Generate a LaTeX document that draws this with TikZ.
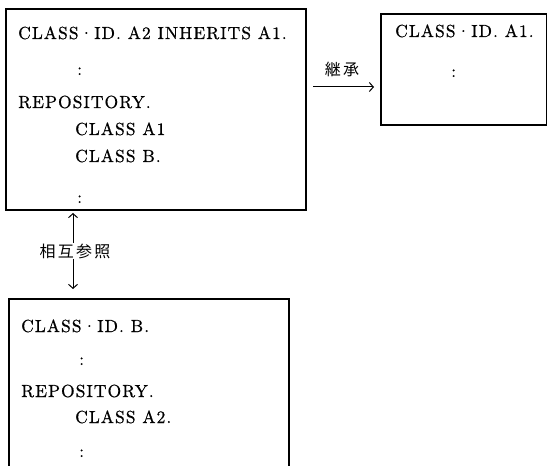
\documentclass[tikz,border=0pt]{standalone}
\usepackage{fontspec}
\usetikzlibrary{arrows.meta}
\newfontfamily\codefont[LetterSpace=6,FakeBold=0.6]{lmroman10-regular.otf}
\newfontfamily\cjkfont[LetterSpace=14]{Noto Sans CJK JP}
\tikzset{
  box/.style={draw=black, line width=1.6bp, rectangle, inner sep=0pt, anchor=north west},
  code/.style={anchor=base west, inner sep=0pt, font=\codefont\fontsize{17.5bp}{19bp}\selectfont},
  lbl/.style={inner sep=1bp, font=\cjkfont\fontsize{16bp}{18bp}\selectfont},
  conn/.style={line width=1bp, -{Straight Barb[length=4bp,width=9bp]}},
  conn2/.style={line width=1bp, {Straight Barb[length=4bp,width=9bp]}-{Straight Barb[length=4bp,width=9bp]}}
}
\begin{document}
\begin{tikzpicture}[x=1bp,y=-1bp]
\useasboundingbox (0,0) rectangle (547,466);
% boxes
\node[box, minimum width=300bp, minimum height=201bp] (b1) at (5,8) {};
\node[box, minimum width=166bp, minimum height=111bp] (b2) at (380,13) {};
\node[box, minimum width=280bp, minimum height=200bp] (b3) at (8,298) {};
% box 1 text
\node[code] (t11) at (18,39) {CLASS·ID. A2 INHERITS A1.};
\node[code] (t12) at (77,75) {:};
\node[code] (t13) at (18,108) {REPOSITORY.};
\node[code] (t14) at (75,135) {CLASS A1};
\node[code] (t15) at (75,162) {CLASS B.};
\node[code] (t16) at (77,203) {:};
% box 2 text
\node[code] (t21) at (395,37) {CLASS·ID. A1.};
\node[code] (t22) at (451,77) {:};
% box 3 text
\node[code] (t31) at (21,332) {CLASS·ID. B.};
\node[code] (t32) at (79,365) {:};
\node[code] (t33) at (21,397) {REPOSITORY.};
\node[code] (t34) at (75,423) {CLASS A2.};
\node[code] (t35) at (79,457) {:};
% connectors
\coordinate (i1) at (313,87);
\coordinate (i2) at (374,87);
\draw[conn] (i1) -- (i2);
\node[lbl] (l1) at (342,69) {継承};
\coordinate (r1) at (73,213);
\coordinate (r2) at (73,289);
\draw[conn2] (r1) -- (r2);
\node[lbl, fill=white] (l2) at (75,251) {相互参照};
\end{tikzpicture}
\end{document}
